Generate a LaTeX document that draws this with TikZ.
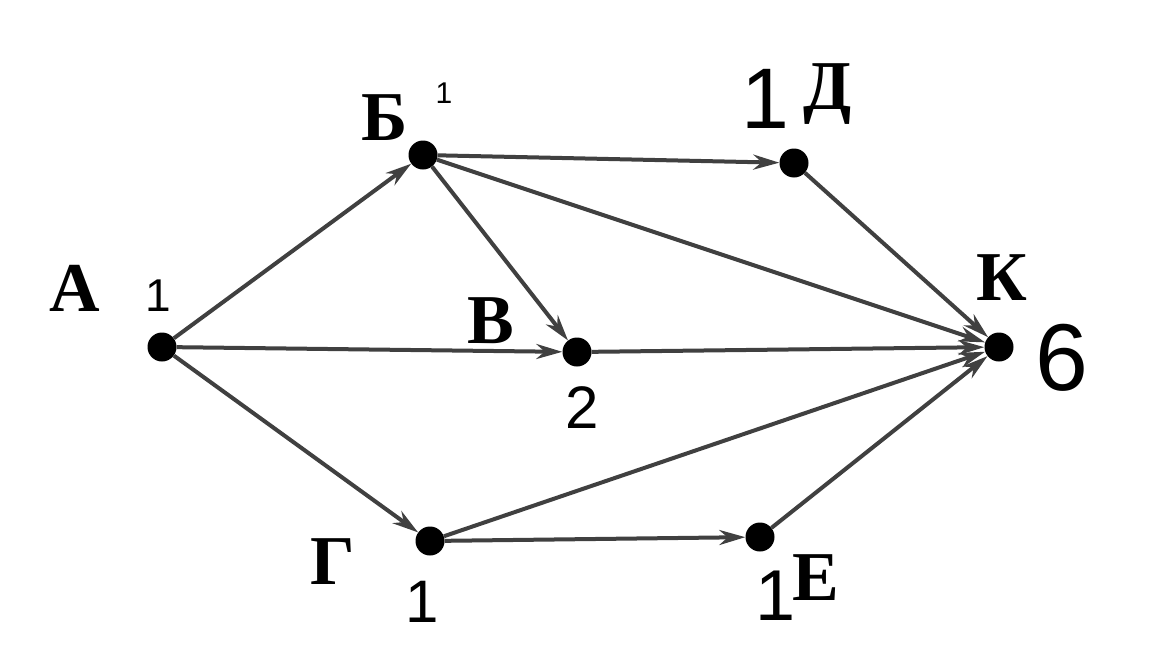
\documentclass[tikz,border=0pt]{standalone}
\usepackage{fontspec}
\setmainfont{Liberation Serif}
\newfontfamily\handfont{Liberation Sans}
\usetikzlibrary{arrows.meta}
\begin{document}
\begin{tikzpicture}[x=1pt,y=-1pt,
  vtx/.style={circle,fill=black,inner sep=0pt,minimum size=29pt},
  lbl/.style={font=\fontsize{70}{70}\selectfont\bfseries,inner sep=0pt},
  hand/.style={inner sep=0pt},
  edge/.style={draw=black!75,line width=4pt,-{Stealth[length=26pt,width=15pt]}}]
\useasboundingbox (0,0) rectangle (1152,648);
\fill[white] (0,0) rectangle (1152,648);
% vertices
\node[vtx] (A) at (162,347) {};
\node[vtx] (B) at (423,155) {};
\node[vtx] (D) at (794,163) {};
\node[vtx] (V) at (577,352) {};
\node[vtx] (K) at (999,347) {};
\node[vtx] (G) at (430,541) {};
\node[vtx] (E) at (760,537) {};
% letters
\node[lbl] (lA) at (75,288) {А};
\node[lbl] (lB) at (385,118) {Б};
\node[lbl] (lD) at (828,94) {Д};
\node[lbl] (lV) at (491,321) {В};
\node[lbl] (lK) at (1002,278) {К};
\node[lbl] (lG) at (333,562) {Г};
\node[lbl] (lE) at (816,578) {Е};
% handwritten numbers
\node[hand,font=\handfont\fontsize{46}{46}\selectfont] (nA) at (158,296) {1};
\node[hand,font=\handfont\fontsize{30}{30}\selectfont] (nB) at (444,93) {1};
\node[hand,font=\handfont\fontsize{86}{86}\selectfont] (nD) at (765,99) {1};
\node[hand,font=\handfont\fontsize{60}{60}\selectfont] (nV) at (582,408) {2};
\node[hand,font=\handfont\fontsize{95}{95}\selectfont] (nK) at (1062,358) {6};
\node[hand,font=\handfont\fontsize{60}{60}\selectfont] (nG) at (422,602) {1};
\node[hand,font=\handfont\fontsize{72}{72}\selectfont] (nE) at (776,596) {1};
% edges
\draw[edge] (A) -- (B);
\draw[edge] (A) -- (V);
\draw[edge] (A) -- (G);
\draw[edge] (B) -- (D);
\draw[edge] (B) -- (V);
\draw[edge] (B) -- (K);
\draw[edge] (D) -- (K);
\draw[edge] (V) -- (K);
\draw[edge] (G) -- (K);
\draw[edge] (G) -- (E);
\draw[edge] (E) -- (K);
\end{tikzpicture}
\end{document}
